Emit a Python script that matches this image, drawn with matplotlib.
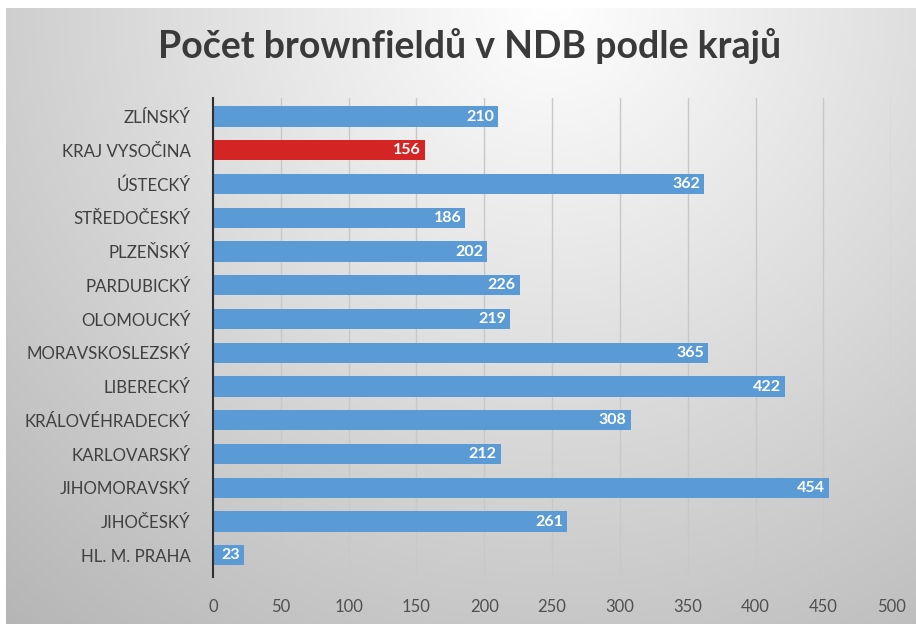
import numpy as np
import matplotlib
matplotlib.use("Agg")
import matplotlib.pyplot as plt

categories = ["HL. M. PRAHA", "JIHOČESKÝ", "JIHOMORAVSKÝ", "KARLOVARSKÝ", "KRÁLOVÉHRADECKÝ",
              "LIBERECKÝ", "MORAVSKOSLEZSKÝ", "OLOMOUCKÝ", "PARDUBICKÝ", "PLZEŇSKÝ",
              "STŘEDOČESKÝ", "ÚSTECKÝ", "KRAJ VYSOČINA", "ZLÍNSKÝ"]
values = [23, 261, 454, 212, 308, 422, 365, 219, 226, 202, 186, 362, 156, 210]
highlight = "KRAJ VYSOČINA"
xticks = [0, 50, 100, 150, 200, 250, 300, 350, 400, 450, 500]
title = "Počet brownfieldů v NDB podle krajů"

plt.rcParams['font.family'] = ['Lato', 'DejaVu Sans']

fig = plt.figure(figsize=(9.16, 6.24), dpi=100)

# background gradient
bg = fig.add_axes([0, 0, 1, 1], zorder=-10)
H, W = 312, 458
yy, xx = np.mgrid[0:H, 0:W]
nx = xx / W
ny = yy / H
d = np.sqrt(((nx - 0.6) / 0.75) ** 2 + ((ny - 0.0) / 1.1) ** 2)
val = 1.0 - 0.24 * np.clip(d, 0, 1.2)
img = np.dstack([val, val, val])
img[:4, :, :] = 1.0
img[:, :3, :] = 1.0
bg.imshow(img, aspect='auto', extent=[0, 1, 0, 1], origin='upper')
bg.axis('off')

ax = fig.add_axes([0.2325, 0.075, 0.7405, 0.768])
ax.patch.set_alpha(0)
y = np.arange(len(categories))
colors = ['#d42424' if c == highlight else '#5b9bd5' for c in categories]
bars = ax.barh(y, values, height=0.6, color=colors, zorder=3)
for yi, v in zip(y, values):
    ax.text(v - 3, yi, str(v), ha='right', va='center', color='white',
            fontsize=11.5, fontweight='bold', zorder=4)

ax.set_xlim(0, 500)
ax.set_ylim(-0.65, len(categories) - 0.45)
ax.set_xticks(xticks)
ax.set_xticklabels([str(t) for t in xticks], fontsize=12, color='#505050')
ax.set_yticks(y)
ax.set_yticklabels(categories, fontsize=12.2, color='#404040')
ax.tick_params(axis='y', length=0, pad=16)
ax.tick_params(axis='x', length=0, pad=16)
ax.grid(axis='x', color='#c8c8c8', linewidth=1, zorder=0)
for s in ['top', 'right', 'bottom']:
    ax.spines[s].set_visible(False)
ax.spines['left'].set_color('#303030')
ax.spines['left'].set_linewidth(1.5)
ax.spines['left'].set_zorder(5)

fig.text(0.513, 0.927, title, ha='center', va='center', fontsize=27,
         fontweight='bold', color='#3a3a3a')

fig.savefig('out.png', dpi=100)
